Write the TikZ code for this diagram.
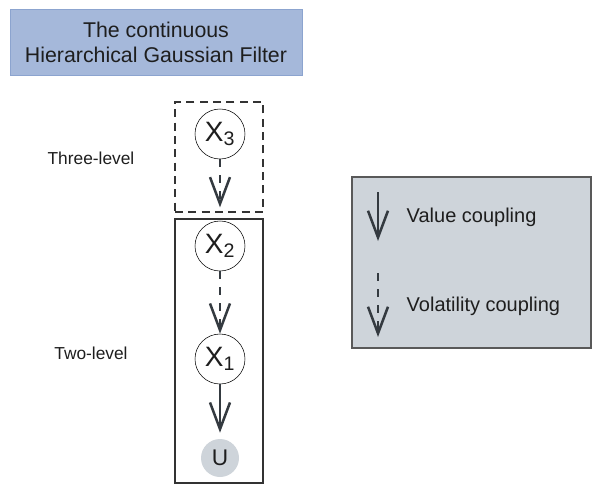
\documentclass[tikz,border=0pt]{standalone}
\usepackage{fontspec}
\setmainfont{Liberation Sans}
\usetikzlibrary{positioning}
\usetikzlibrary{arrows.meta}

\definecolor{titleblue}{HTML}{A5B8DA}
\definecolor{titleedge}{HTML}{8CA4CF}
\definecolor{legendgrey}{HTML}{CED4DA}
\definecolor{inkgrey}{HTML}{343A40}
\definecolor{ink}{HTML}{1E1E1E}

\begin{document}
\begin{tikzpicture}[x=0.75pt,y=-0.75pt,
    every node/.style={text=ink},
    state/.style={circle, draw=black, thin, minimum size=37.5pt, inner sep=0pt,
      font=\fontsize{21}{21}\selectfont},
    input/.style={circle, fill=legendgrey, minimum size=28.5pt, inner sep=0pt,
      font=\fontsize{17}{17}\selectfont},
    valuecoup/.style={draw=inkgrey, line width=1.9pt,
      -{Straight Barb[length=20pt,width=15pt,line width=1.9pt]}},
    volcoup/.style={valuecoup, dash pattern=on 6pt off 6pt},
    levelbox/.style={draw=black!80, line width=0.8pt, minimum width=66pt},
    levellabel/.style={font=\fontsize{13}{13}\selectfont}]
    \useasboundingbox (0,0) rectangle (599,493);

    % title
    \node[fill=titleblue, draw=titleedge, minimum width=219pt, minimum height=49.5pt,
      align=center, font=\fontsize{16}{18.75}\selectfont] (title) at (156,42)
      {The continuous\\Hierarchical Gaussian Filter};

    % levels
    \node[levelbox, dashed, dash pattern=on 6pt off 4pt, minimum height=82.5pt] (three) at (219,157) {};
    \node[levelbox, minimum height=198pt] (two) at (219,351) {};
    \node[levellabel] (threelab) at (91,158) {Three-level};
    \node[levellabel] (twolab) at (91,353) {Two-level};

    \node[state] (x3) at (220,134) {X\textsubscript{3}};
    \node[state] (x2) at (220,246) {X\textsubscript{2}};
    \node[state] (x1) at (220,359) {X\textsubscript{1}};
    \node[input] (u) at (220,458) {U};
    \draw [volcoup, shorten >=10pt] (x3)--(x2);
    \draw [volcoup] (x2)--(x1);
    \draw [valuecoup, shorten >=4.5pt] (x1)--(u);

    % legend
    \node[fill=legendgrey, draw=black!65, line width=0.8pt, minimum width=179.25pt,
      minimum height=128.25pt] (legend) at (471.5,262.5) {};
    \coordinate (vtop) at (378,192);
    \coordinate (vbot) at (378,241);
    \coordinate (ktop) at (378,273);
    \coordinate (kbot) at (378,337);
    \draw [valuecoup] (vtop)--(vbot);
    \draw [volcoup] (ktop)--(kbot);
    \node[anchor=west, font=\fontsize{15}{15}\selectfont] (vallab) at (402,217) {Value coupling};
    \node[anchor=west, font=\fontsize{15}{15}\selectfont] (vollab) at (402,306) {Volatility coupling};
  \end{tikzpicture}
\end{document}
